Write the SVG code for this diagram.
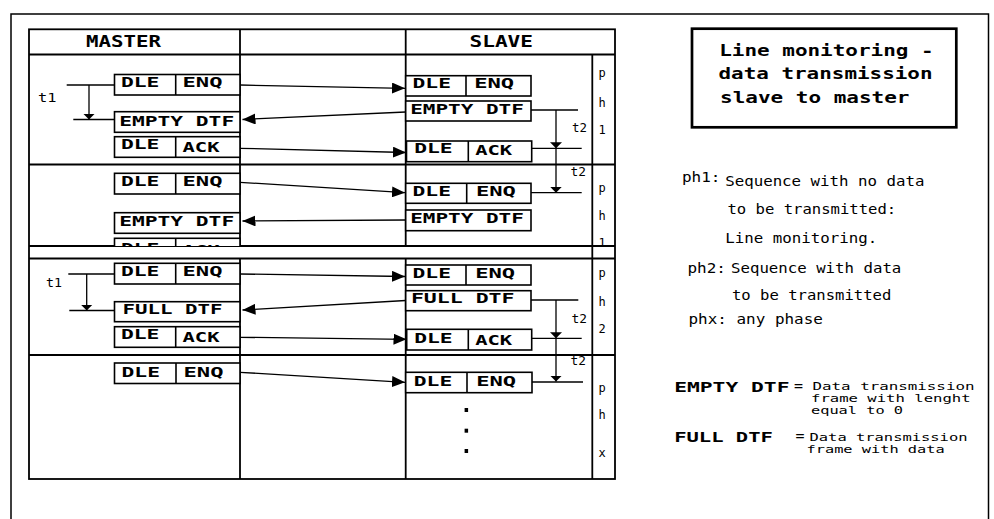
<svg xmlns="http://www.w3.org/2000/svg" width="994" height="519" viewBox="0 0 994 519">
<style>
.tl{stroke:#000;stroke-width:1.8;fill:none}
.bx{fill:#fff;stroke:#000;stroke-width:1.6}
.dv{stroke:#000;stroke-width:1.6}
.cn{stroke:#000;stroke-width:1.3;fill:none}
.ar{marker-end:url(#ah)}
.ad{marker-end:url(#sd)}
.b{font-family:"DejaVu Sans Mono","Liberation Mono",monospace;font-weight:bold;font-size:14px}
.h{font-family:"DejaVu Sans Mono","Liberation Mono",monospace;font-weight:bold;font-size:15px}
.r{font-family:"DejaVu Sans Mono","Liberation Mono",monospace;font-size:14px}
.s{font-family:"DejaVu Sans Mono","Liberation Mono",monospace;font-size:12px}
.t{font-family:"DejaVu Sans Mono","Liberation Mono",monospace;font-size:10.8px}
</style>
<defs>
<marker id="ah" markerUnits="userSpaceOnUse" markerWidth="13" markerHeight="11" refX="13" refY="5.5" orient="auto">
<path d="M0,0 L13,5.5 L0,11 z" fill="#000"/>
</marker>
<marker id="sd" markerUnits="userSpaceOnUse" markerWidth="6" markerHeight="12" refX="6" refY="6" orient="auto">
<path d="M0,0 L6,6 L0,12 z" fill="#000"/>
</marker>
<clipPath id="cut"><rect x="100" y="230" width="520" height="16"/></clipPath>
</defs>
<rect x="0" y="0" width="994" height="519" fill="#fff"/>
<rect x="11" y="14" width="977.5" height="530" fill="none" stroke="#000" stroke-width="1.5"/>

<g id="table">
<rect class="tl" x="29" y="29.3" width="586" height="449.7"/>
<line class="tl" x1="29" y1="54.5" x2="615" y2="54.5"/>
<line class="tl" x1="240" y1="29.3" x2="240" y2="246"/>
<line class="tl" x1="240" y1="258.5" x2="240" y2="479"/>
<line class="tl" x1="405.7" y1="29.3" x2="405.7" y2="246"/>
<line class="tl" x1="405.7" y1="258.5" x2="405.7" y2="479"/>
<line class="tl" x1="592.3" y1="54.5" x2="592.3" y2="479"/>
<line class="tl" x1="29" y1="164.5" x2="615" y2="164.5"/>
<line class="tl" x1="29" y1="246" x2="615" y2="246"/>
<line class="tl" x1="29" y1="258.5" x2="615" y2="258.5"/>
<line class="tl" x1="29" y1="355" x2="615" y2="355"/>
<text class="h" x="86" y="46.7" textLength="75" lengthAdjust="spacingAndGlyphs">MASTER</text>
<text class="h" x="469.5" y="47.3" textLength="63.5" lengthAdjust="spacingAndGlyphs">SLAVE</text>
</g>

<g id="phases" class="s">
<text x="598.5" y="77">p</text><text x="598.5" y="107.3">h</text><text x="598.5" y="134">1</text>
<text x="598.5" y="191.7">p</text><text x="598.5" y="220">h</text><text x="598.5" y="247" clip-path="url(#cut)">1</text>
<text x="598.5" y="277.3">p</text><text x="598.5" y="305.7">h</text><text x="598.5" y="333.3">2</text>
<text x="598.5" y="391.7">p</text><text x="598.5" y="419.3">h</text><text x="598.5" y="456.7">x</text>
</g>

<g id="m1"><rect class="bx" x="114.5" y="74.5" width="125.5" height="20.5"/><line class="dv" x1="175.7" y1="74.5" x2="175.7" y2="95"/>
<text class="b" x="120.9" y="86.7" textLength="38.5" lengthAdjust="spacingAndGlyphs">DLE</text><text class="b" x="182.5" y="86.7" textLength="40" lengthAdjust="spacingAndGlyphs">ENQ</text></g>
<g id="m2"><rect class="bx" x="114.5" y="111.7" width="125.5" height="20.6"/>
<text class="b" x="119.2" y="126" textLength="115" lengthAdjust="spacingAndGlyphs">EMPTY DTF</text></g>
<g id="m3"><rect class="bx" x="114.5" y="136.7" width="125.5" height="20.6"/><line class="dv" x1="175.7" y1="136.7" x2="175.7" y2="157.3"/>
<text class="b" x="120.9" y="149.3" textLength="38.5" lengthAdjust="spacingAndGlyphs">DLE</text><text class="b" x="182.5" y="152.3" textLength="37" lengthAdjust="spacingAndGlyphs">ACK</text></g>
<g id="m4"><rect class="bx" x="114.5" y="173.3" width="125.5" height="20.7"/><line class="dv" x1="175.7" y1="173.3" x2="175.7" y2="194"/>
<text class="b" x="120.9" y="186" textLength="38.5" lengthAdjust="spacingAndGlyphs">DLE</text><text class="b" x="182.5" y="186" textLength="40" lengthAdjust="spacingAndGlyphs">ENQ</text></g>
<g id="m5"><rect class="bx" x="114.5" y="212.7" width="125.5" height="20.6"/>
<text class="b" x="119.2" y="226" textLength="115" lengthAdjust="spacingAndGlyphs">EMPTY DTF</text></g>
<g id="m6" clip-path="url(#cut)"><rect class="bx" x="114.5" y="238.3" width="125.5" height="20.6"/><line class="dv" x1="175.7" y1="238.3" x2="175.7" y2="259"/>
<text class="b" x="120.9" y="252.7" textLength="38.5" lengthAdjust="spacingAndGlyphs">DLE</text><text class="b" x="182.5" y="255" textLength="37" lengthAdjust="spacingAndGlyphs">ACK</text></g>
<g id="m7"><rect class="bx" x="114.5" y="263.3" width="125.5" height="20.7"/><line class="dv" x1="175.7" y1="263.3" x2="175.7" y2="284"/>
<text class="b" x="120.9" y="276" textLength="38.5" lengthAdjust="spacingAndGlyphs">DLE</text><text class="b" x="182.5" y="276" textLength="40" lengthAdjust="spacingAndGlyphs">ENQ</text></g>
<g id="m8"><rect class="bx" x="114.5" y="301.7" width="125.5" height="20"/>
<text class="b" x="122.5" y="314" textLength="100" lengthAdjust="spacingAndGlyphs">FULL DTF</text></g>
<g id="m9"><rect class="bx" x="114.5" y="326.7" width="125.5" height="20.6"/><line class="dv" x1="175.7" y1="326.7" x2="175.7" y2="347.3"/>
<text class="b" x="120.9" y="339.3" textLength="38.5" lengthAdjust="spacingAndGlyphs">DLE</text><text class="b" x="182.5" y="341.7" textLength="37" lengthAdjust="spacingAndGlyphs">ACK</text></g>
<g id="m10"><rect class="bx" x="114.5" y="363" width="125.5" height="20.5"/><line class="dv" x1="176" y1="363" x2="176" y2="383.5"/>
<text class="b" x="121.5" y="376.7" textLength="38.5" lengthAdjust="spacingAndGlyphs">DLE</text><text class="b" x="183.5" y="376.7" textLength="40" lengthAdjust="spacingAndGlyphs">ENQ</text></g>

<g id="s1"><rect class="bx" x="405.7" y="75.7" width="125.3" height="20.3"/><line class="dv" x1="466" y1="75.7" x2="466" y2="96"/>
<text class="b" x="412.5" y="88.3" textLength="38.5" lengthAdjust="spacingAndGlyphs">DLE</text><text class="b" x="474.2" y="88.3" textLength="40" lengthAdjust="spacingAndGlyphs">ENQ</text></g>
<g id="s2"><rect class="bx" x="405.7" y="101" width="125.3" height="20"/>
<text class="b" x="410.2" y="114" textLength="113.7" lengthAdjust="spacingAndGlyphs">EMPTY DTF</text></g>
<g id="s3"><rect class="bx" x="406.5" y="141" width="125.2" height="20.7"/><line class="dv" x1="468.3" y1="141" x2="468.3" y2="161.7"/>
<text class="b" x="414.2" y="152.7" textLength="38.5" lengthAdjust="spacingAndGlyphs">DLE</text><text class="b" x="475.2" y="155" textLength="37" lengthAdjust="spacingAndGlyphs">ACK</text></g>
<g id="s4"><rect class="bx" x="405.7" y="183.3" width="125.3" height="20"/><line class="dv" x1="466.7" y1="183.3" x2="466.7" y2="203.3"/>
<text class="b" x="412.5" y="196" textLength="38.5" lengthAdjust="spacingAndGlyphs">DLE</text><text class="b" x="475.9" y="196" textLength="40" lengthAdjust="spacingAndGlyphs">ENQ</text></g>
<g id="s5"><rect class="bx" x="405.7" y="210" width="125.3" height="20.7"/>
<text class="b" x="410.2" y="222.7" textLength="113.7" lengthAdjust="spacingAndGlyphs">EMPTY DTF</text></g>
<g id="s6"><rect class="bx" x="405.7" y="265" width="125.3" height="20"/><line class="dv" x1="466" y1="265" x2="466" y2="285"/>
<text class="b" x="412.5" y="278.3" textLength="38.5" lengthAdjust="spacingAndGlyphs">DLE</text><text class="b" x="475.2" y="278.3" textLength="40" lengthAdjust="spacingAndGlyphs">ENQ</text></g>
<g id="s7"><rect class="bx" x="405.7" y="290.7" width="125.3" height="20"/>
<text class="b" x="410.9" y="303.3" textLength="103.6" lengthAdjust="spacingAndGlyphs">FULL DTF</text></g>
<g id="s8"><rect class="bx" x="406.7" y="329.3" width="125" height="20.7"/><line class="dv" x1="468.3" y1="329.3" x2="468.3" y2="350"/>
<text class="b" x="414.2" y="342.7" textLength="38.5" lengthAdjust="spacingAndGlyphs">DLE</text><text class="b" x="475.2" y="345" textLength="37" lengthAdjust="spacingAndGlyphs">ACK</text></g>
<g id="s9"><rect class="bx" x="405.7" y="372.3" width="126.3" height="20.4"/><line class="dv" x1="467" y1="372.3" x2="467" y2="392.7"/>
<text class="b" x="413.8" y="386" textLength="38.5" lengthAdjust="spacingAndGlyphs">DLE</text><text class="b" x="476.2" y="386" textLength="40" lengthAdjust="spacingAndGlyphs">ENQ</text></g>
<g id="dots"><rect x="464.6" y="408" width="3.5" height="4"/><rect x="464.6" y="428.7" width="3.5" height="4"/><rect x="464.6" y="449" width="3.5" height="4"/></g>

<g id="connectors">
<line class="cn ar" x1="240" y1="85" x2="405" y2="88.3"/>
<line class="cn ar" x1="405.7" y1="112" x2="242.5" y2="119.5"/>
<line class="cn ar" x1="240" y1="148.3" x2="406" y2="152.5"/>
<line class="cn ar" x1="240" y1="182.3" x2="405" y2="192.7"/>
<line class="cn ar" x1="405.7" y1="220" x2="242.5" y2="221"/>
<line class="cn ar" x1="240" y1="274" x2="405" y2="276.5"/>
<line class="cn ar" x1="405.7" y1="300.5" x2="242.5" y2="310"/>
<line class="cn ar" x1="240" y1="337.3" x2="406.5" y2="339.3"/>
<line class="cn ar" x1="240" y1="372.3" x2="405" y2="382.3"/>
<line class="cn" x1="66.7" y1="85" x2="114.5" y2="85"/>
<line class="cn ad" x1="89" y1="85" x2="89" y2="119.5"/>
<line class="cn" x1="73.3" y1="119.5" x2="114.5" y2="119.5"/>
<line class="cn" x1="68.3" y1="274" x2="114.5" y2="274"/>
<line class="cn ad" x1="86.7" y1="274" x2="86.7" y2="310.5"/>
<line class="cn" x1="69.3" y1="310.5" x2="114.5" y2="310.5"/>
<line class="cn" x1="531" y1="110" x2="578" y2="110"/>
<line class="cn ad" x1="556" y1="110" x2="556" y2="148.3"/>
<line class="cn ad" x1="556" y1="148.3" x2="556" y2="192.7"/>
<line class="cn" x1="531.7" y1="148.3" x2="581.7" y2="148.3"/>
<line class="cn" x1="531" y1="192.7" x2="581.7" y2="192.7"/>
<line class="cn" x1="531" y1="300" x2="578.3" y2="300"/>
<line class="cn ad" x1="556" y1="300" x2="556" y2="338.3"/>
<line class="cn ad" x1="556" y1="338.3" x2="556" y2="381.5"/>
<line class="cn" x1="531.7" y1="338.3" x2="581.7" y2="338.3"/>
<line class="cn" x1="532" y1="382" x2="583" y2="382"/>
</g>
<g id="timers" class="s">
<text x="38" y="101.7" textLength="18.5" lengthAdjust="spacingAndGlyphs">t1</text>
<text x="46" y="287.3" textLength="16" lengthAdjust="spacingAndGlyphs">t1</text>
<text x="572" y="131.7" textLength="15" lengthAdjust="spacingAndGlyphs">t2</text>
<text x="570.5" y="175.5" textLength="15.5" lengthAdjust="spacingAndGlyphs">t2</text>
<text x="571.5" y="322.7" textLength="15.5" lengthAdjust="spacingAndGlyphs">t2</text>
<text x="570.5" y="365" textLength="15.5" lengthAdjust="spacingAndGlyphs">t2</text>
</g>

<g id="title">
<rect x="692" y="28.7" width="264.3" height="98.6" fill="none" stroke="#000" stroke-width="2.7"/>
<text class="h" x="719.2" y="56" textLength="214.5" lengthAdjust="spacingAndGlyphs">Line monitoring -</text>
<text class="h" x="718.5" y="79.3" textLength="214" lengthAdjust="spacingAndGlyphs">data transmission</text>
<text class="h" x="720" y="103.3" textLength="189.5" lengthAdjust="spacingAndGlyphs">slave to master</text>
</g>

<g id="legend-phases" class="r">
<text x="682" y="182.3" textLength="38.5" lengthAdjust="spacingAndGlyphs">ph1:</text>
<text x="725.2" y="185.7" textLength="199.3" lengthAdjust="spacingAndGlyphs">Sequence with no data</text>
<text x="727.5" y="214" textLength="168.7" lengthAdjust="spacingAndGlyphs">to be transmitted:</text>
<text x="725.2" y="242.7" textLength="152" lengthAdjust="spacingAndGlyphs">Line monitoring.</text>
<text x="687.5" y="272.7" textLength="38.5" lengthAdjust="spacingAndGlyphs">ph2:</text>
<text x="731" y="272.7" textLength="170.3" lengthAdjust="spacingAndGlyphs">Sequence with data</text>
<text x="732" y="300" textLength="159.3" lengthAdjust="spacingAndGlyphs">to be transmitted</text>
<text x="688.5" y="324" textLength="134.4" lengthAdjust="spacingAndGlyphs">phx: any phase</text>
</g>

<g id="legend-dtf">
<text class="b" x="674.2" y="391.7" textLength="115.3" lengthAdjust="spacingAndGlyphs">EMPTY DTF</text>
<text class="r" x="794" y="390.5" textLength="9" lengthAdjust="spacingAndGlyphs">=</text>
<text class="t" x="812.5" y="389.5" textLength="162" lengthAdjust="spacingAndGlyphs">Data transmission</text>
<text class="t" x="811" y="401.7" textLength="159.6" lengthAdjust="spacingAndGlyphs">frame with lenght</text>
<text class="t" x="811" y="413.9" textLength="92" lengthAdjust="spacingAndGlyphs">equal to 0</text>
<text class="b" x="674.2" y="441.7" textLength="98.7" lengthAdjust="spacingAndGlyphs">FULL DTF</text>
<text class="r" x="795.5" y="440.5" textLength="9" lengthAdjust="spacingAndGlyphs">=</text>
<text class="t" x="809.5" y="440.5" textLength="158" lengthAdjust="spacingAndGlyphs">Data transmission</text>
<text class="t" x="806.5" y="453.3" textLength="138.2" lengthAdjust="spacingAndGlyphs">frame with data</text>
</g>
</svg>
